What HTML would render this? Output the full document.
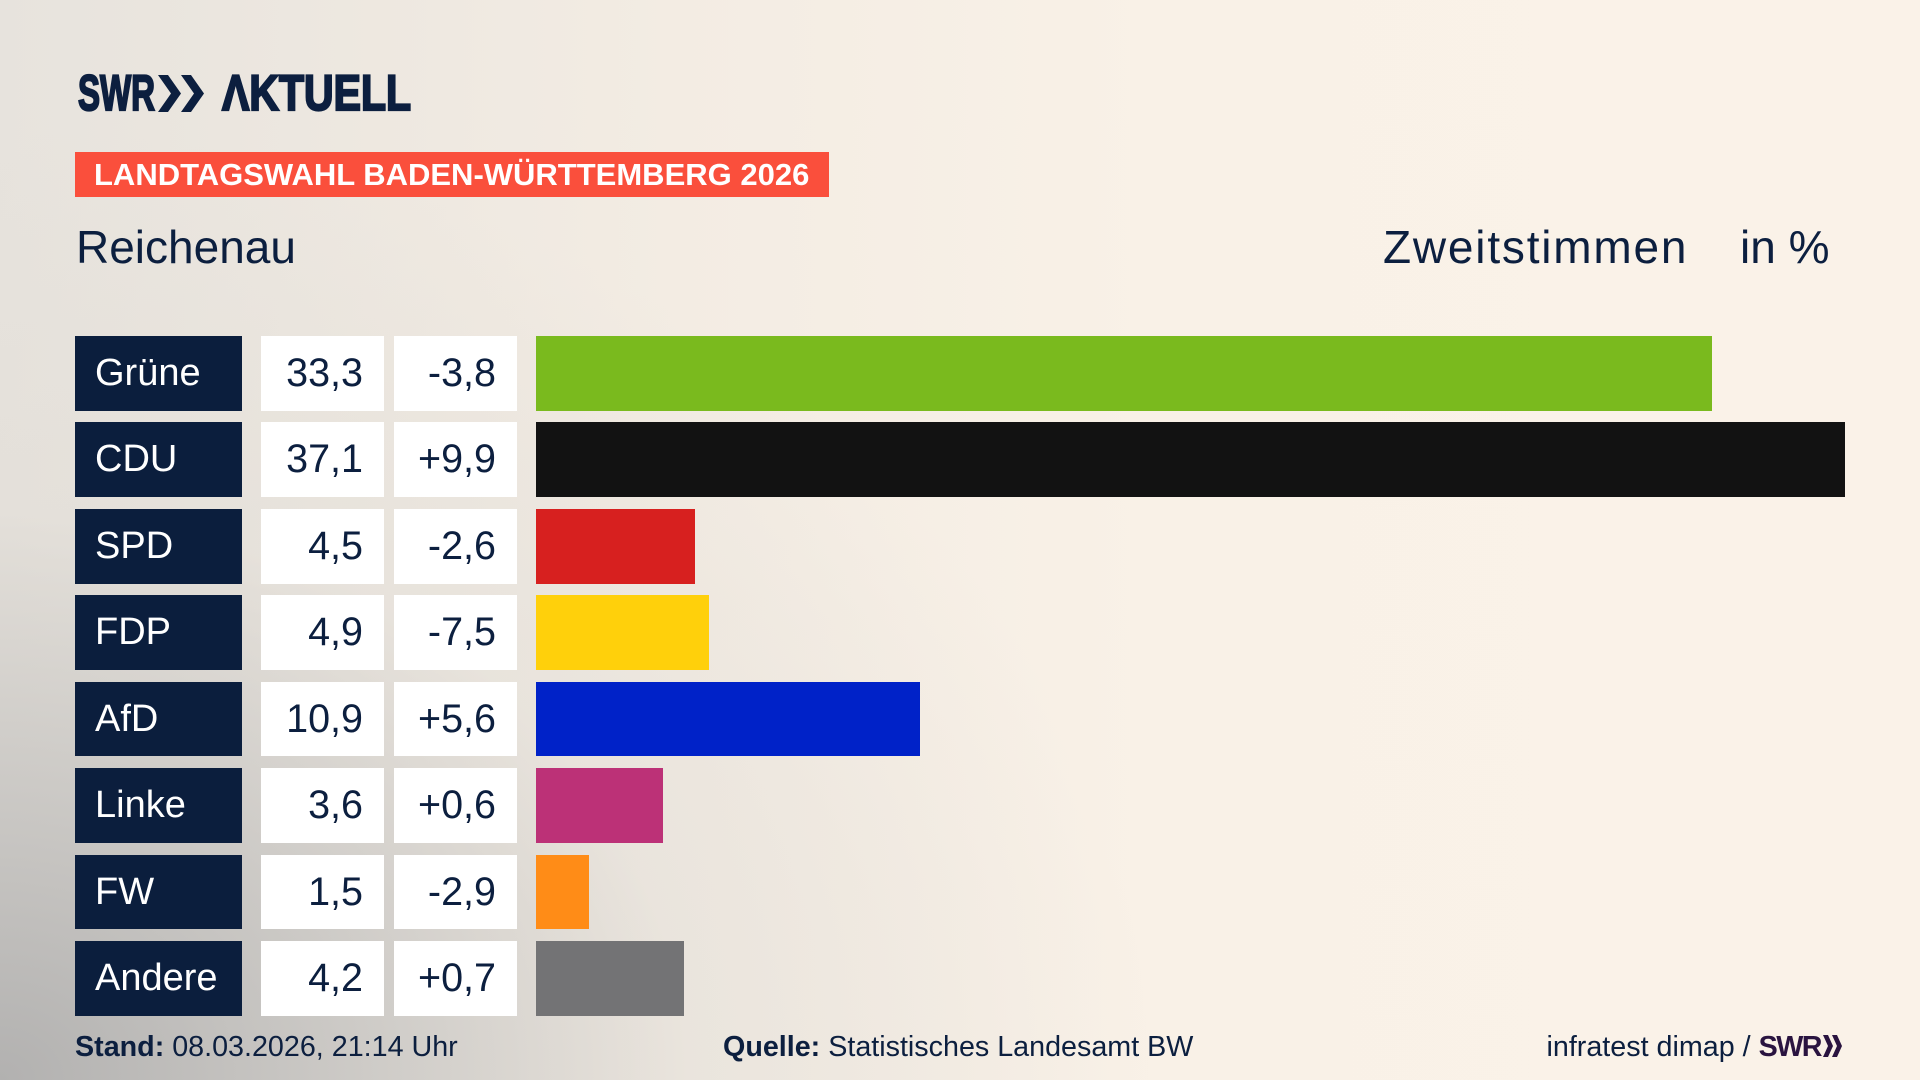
<!DOCTYPE html>
<html>
<head>
<meta charset="utf-8">
<style>
  html, body { margin:0; padding:0; }
  body {
    width:1920px; height:1080px; overflow:hidden; position:relative;
    font-family:"Liberation Sans", sans-serif;
    background:
      radial-gradient(ellipse 1150px 950px at 0% 100%, rgba(178,177,176,1) 0%, rgba(198,196,193,0.85) 30%, rgba(225,221,215,0.5) 60%, rgba(245,238,229,0) 100%),
      linear-gradient(to right, #e7e3dd 0%, #f3ece3 35%, #f9f1e7 60%, #faf2e8 100%);
    color:#0c1f3f;
  }
  .abs { position:absolute; white-space:nowrap; }
  .logo { top:68px; font-size:50px; line-height:50px; font-weight:bold; color:#0c1f3f; -webkit-text-stroke:2.2px #0c1f3f; }
  .banner { left:75px; top:152px; width:754px; height:45px; background:#fa4f3c; }
  .banner span { position:absolute; left:19px; top:6.8px; font-size:31px; line-height:31px; font-weight:bold; color:#fff; }
  .h2 { font-size:46px; line-height:46px; top:224px; color:#0c1f3f; }
  .row { position:absolute; left:0; width:1920px; height:74.7px; }
  .name { position:absolute; left:75px; width:167px; height:100%; background:#0b1e3d; color:#fff; font-size:38px; line-height:74.7px; box-sizing:border-box; padding-left:20px; }
  .val, .chg { position:absolute; width:123px; height:100%; background:#fff; color:#0c1f3f; font-size:39.5px; line-height:74.7px; text-align:right; box-sizing:border-box; padding-right:21px; }
  .val { left:261px; }
  .chg { left:394px; }
  .bar { position:absolute; left:536px; height:100%; }
  .foot { font-size:28.7px; line-height:28px; top:1033px; color:#0c1f3f; }
  .foot b { font-weight:bold; }
</style>
</head>
<body>

<!-- Logo -->
<div class="abs logo" style="left:78px;">
  <span style="display:inline-block; transform:scaleX(0.66); transform-origin:0 0;">SWR</span>
</div>
<svg class="abs" style="left:157px; top:75px;" width="52" height="37" viewBox="0 0 52 37">
  <polygon points="1,0 11,0 24,18.5 11,37 1,37 14,18.5" fill="#0c1f3f"/>
  <polygon points="24,0 34,0 47,18.5 34,37 24,37 37,18.5" fill="#0c1f3f"/>
</svg>
<div class="abs logo" style="left:222px;">
  <span style="display:inline-block; transform:scaleX(0.82); transform-origin:0 0;">ΛKTUELL</span>
</div>

<!-- Banner -->
<div class="abs banner"><span>LANDTAGSWAHL BADEN-WÜRTTEMBERG 2026</span></div>

<!-- Headings -->
<div class="abs h2" style="left:76px;">Reichenau</div>
<div class="abs h2" style="left:1383px; letter-spacing:1.8px;">Zweitstimmen</div>
<div class="abs h2" style="left:1740px;">in %</div>

<!-- Rows -->
<div class="row" style="top:336px;">
  <div class="name">Grüne</div><div class="val">33,3</div><div class="chg">-3,8</div>
  <div class="bar" style="width:1176px; background:#7aba1e;"></div>
</div>
<div class="row" style="top:422.4px;">
  <div class="name">CDU</div><div class="val">37,1</div><div class="chg">+9,9</div>
  <div class="bar" style="width:1309px; background:#121212;"></div>
</div>
<div class="row" style="top:508.9px;">
  <div class="name">SPD</div><div class="val">4,5</div><div class="chg">-2,6</div>
  <div class="bar" style="width:159px; background:#d7201f;"></div>
</div>
<div class="row" style="top:595.3px;">
  <div class="name">FDP</div><div class="val">4,9</div><div class="chg">-7,5</div>
  <div class="bar" style="width:173px; background:#ffd00b;"></div>
</div>
<div class="row" style="top:681.7px;">
  <div class="name">AfD</div><div class="val">10,9</div><div class="chg">+5,6</div>
  <div class="bar" style="width:384px; background:#0022c8;"></div>
</div>
<div class="row" style="top:768.2px;">
  <div class="name">Linke</div><div class="val">3,6</div><div class="chg">+0,6</div>
  <div class="bar" style="width:127px; background:#bc3177;"></div>
</div>
<div class="row" style="top:854.6px;">
  <div class="name">FW</div><div class="val">1,5</div><div class="chg">-2,9</div>
  <div class="bar" style="width:53px; background:#ff8c17;"></div>
</div>
<div class="row" style="top:941px;">
  <div class="name">Andere</div><div class="val">4,2</div><div class="chg">+0,7</div>
  <div class="bar" style="width:148px; background:#737375;"></div>
</div>

<!-- Footer -->
<div class="abs foot" style="left:75px;"><b>Stand:</b> 08.03.2026, 21:14 Uhr</div>
<div class="abs foot" style="left:723px;"><b>Quelle:</b> Statistisches Landesamt BW</div>
<div class="abs foot" style="right:77px; text-align:right;">infratest dimap / <b style="color:#2a1440; letter-spacing:-1.5px;">SWR</b><svg width="20" height="22" viewBox="0 0 20 22" style="vertical-align:-1px; margin-left:2px;"><polygon points="0,0 5,0 10,11 5,22 0,22 5,11" fill="#2a1440"/><polygon points="9,0 14,0 19,11 14,22 9,22 14,11" fill="#2a1440"/></svg></div>

</body>
</html>
